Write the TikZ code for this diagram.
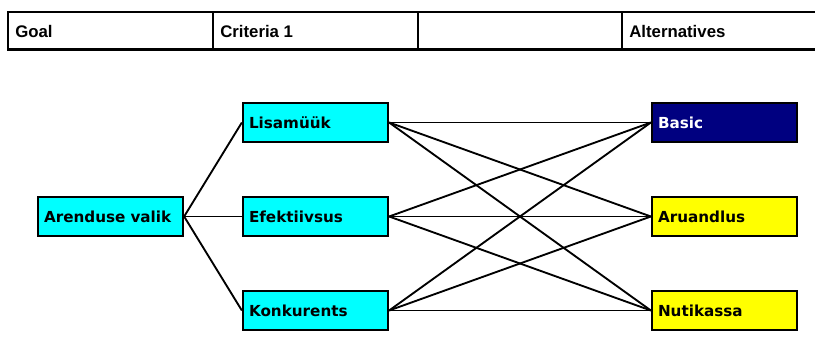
\documentclass[tikz,border=0pt]{standalone}
\usepackage{fontspec}
\setmainfont{DejaVu Sans}
\newfontfamily\headfont{Liberation Sans}
\definecolor{critcyan}{RGB}{0,255,255}
\definecolor{altyellow}{RGB}{255,255,0}
\definecolor{altnavy}{RGB}{0,0,128}
\begin{document}
\begin{tikzpicture}[x=0.75pt,y=-0.75pt,
    box/.style={draw=black, line width=1.7pt, rectangle, minimum width=108.75pt,
        minimum height=29.25pt, inner xsep=4.5pt, text width=99.75pt, align=left,
        font=\bfseries\fontsize{11.4}{13}\selectfont},
    crit/.style={box, fill=critcyan},
    alt/.style={box, fill=altyellow},
    link/.style={line width=1.4pt}]
    \useasboundingbox (0,0) rectangle (815,349);

    % Draw the header row
    \draw[line width=1.7pt] (815,12) -- (8,12) -- (8,49.5) -- (815,49.5);
    \foreach \x in {213,418,622} {
        \draw[line width=1.7pt] (\x,12) -- (\x,49.5);
    }
    \foreach \x/\name/\label in {15/goalhead/Goal, 220/crithead/Criteria 1, 629/althead/Alternatives} {
        \node[anchor=west, inner sep=0pt, font=\headfont\bfseries\fontsize{12.6}{14}\selectfont]
            (\name) at (\x,31) {\label};
    }

    % Draw the goal and the criteria
    \node[crit] (goal) at (110.5,216.5) {Arenduse valik};
    \foreach \i/\y/\label in {1/122.5/Lisamüük, 2/216.5/Efektiivsus, 3/310.5/Konkurents} {
        \node[crit] (c\i) at (315.5,\y) {\label};
        \draw[link] (goal.east) -- (c\i.west);
    }

    % Draw the alternatives
    \node[box, fill=altnavy, text=white] (a1) at (724.5,122.5) {Basic};
    \node[alt] (a2) at (724.5,216.5) {Aruandlus};
    \node[alt] (a3) at (724.5,310.5) {Nutikassa};

    % Connect every criterion with every alternative
    \foreach \i in {1,2,3} {
        \foreach \j in {1,2,3} {
            \draw[link] (c\i.east) -- (a\j.west);
        }
    }
\end{tikzpicture}
\end{document}
